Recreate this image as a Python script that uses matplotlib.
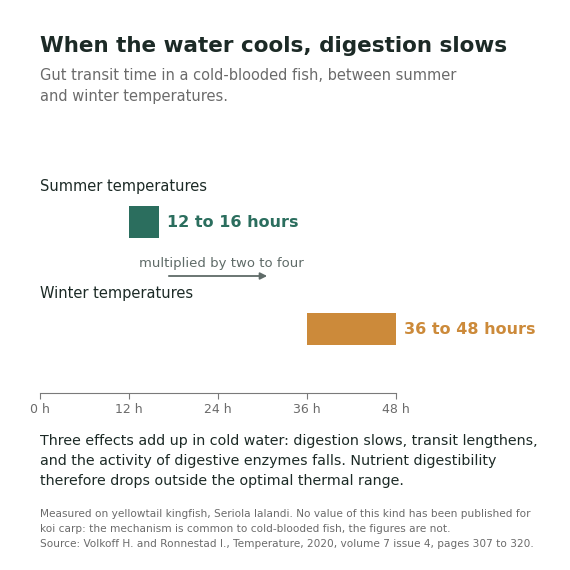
import matplotlib
matplotlib.use("Agg")
from matplotlib import pyplot as plt

groups = ["Summer temperatures", "Winter temperatures"]
starts = [12, 36]
ends = [16, 48]
labels = ["12 to 16 hours", "36 to 48 hours"]
colors = ["#2b6e5e", "#cc8a3a"]
ticks = [0, 12, 24, 36, 48]

W = 570.0
fig = plt.figure(figsize=(5.7, 5.7), dpi=100)
fig.patch.set_facecolor("white")

def fx(px):
    return px / W

def fy(py):
    return 1 - py / W

# axes spans pixel rows 170..393
ax = fig.add_axes([fx(40), fy(393), fx(356), (393 - 170) / W])
ax.set_xlim(0, 48)
ax.set_ylim(393, 170)
bar_rows = [222, 329]
label_rows = [186, 293]
for g, s, e, lab, c, yb, yl in zip(groups, starts, ends, labels, colors, bar_rows, label_rows):
    ax.barh(yb, e - s, left=s, height=32, color=c)
    ax.text(e + 1.1, yb, lab, color=c, fontsize=11.5, fontweight="bold", va="center")
    ax.text(0, yl, g, color="#1c2a26", fontsize=10.5, va="center")

ax.annotate("", xy=(31, 276), xytext=(17, 276),
            arrowprops=dict(arrowstyle="-|>", color="#5f6b68", lw=1.3, mutation_scale=10))
ax.text(24.5, 263, "multiplied by two to four", color="#5f6b68", fontsize=9.5,
        ha="center", va="center")

for sp in ["top", "right", "left"]:
    ax.spines[sp].set_visible(False)
ax.spines["bottom"].set_color("#7a7a7a")
ax.set_yticks([])
ax.set_xticks(ticks)
ax.set_xticklabels([f"{t} h" for t in ticks])
ax.tick_params(axis="x", colors="#6b6b6b", labelsize=9, length=4, color="#7a7a7a")
ax.patch.set_alpha(0)

fig.text(fx(40), fy(46), "When the water cools, digestion slows", fontsize=15.5,
         fontweight="bold", color="#1c2a26", va="center")
fig.text(fx(40), fy(86), "Gut transit time in a cold-blooded fish, between summer\nand winter temperatures.",
         fontsize=10.5, color="#6b6b6b", va="center", linespacing=1.5)
fig.text(fx(40), fy(461), "Three effects add up in cold water: digestion slows, transit lengthens,\n"
         "and the activity of digestive enzymes falls. Nutrient digestibility\n"
         "therefore drops outside the optimal thermal range.",
         fontsize=10.3, color="#1c2a26", va="center", linespacing=1.55)
fig.text(fx(40), fy(529), "Measured on yellowtail kingfish, Seriola lalandi. No value of this kind has been published for\n"
         "koi carp: the mechanism is common to cold-blooded fish, the figures are not.\n"
         "Source: Volkoff H. and Ronnestad I., Temperature, 2020, volume 7 issue 4, pages 307 to 320.",
         fontsize=7.6, color="#6b6b6b", va="center", linespacing=1.6)

fig.savefig("out.png", dpi=100, facecolor="white")
